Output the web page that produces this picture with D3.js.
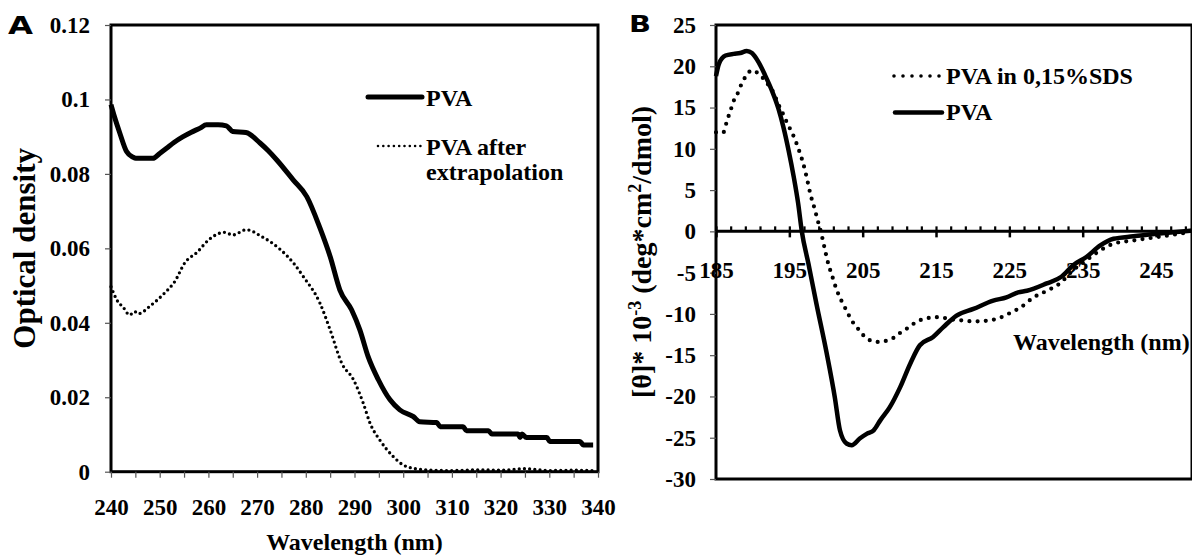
<!DOCTYPE html>
<html>
<head>
<meta charset="utf-8">
<script src="https://cdn.jsdelivr.net/npm/d3@7"></script>
<style>
  html, body { margin: 0; padding: 0; background: #fff; }
  svg { display: block; }
  text.serif { font-family: "Liberation Serif", "Times New Roman", serif; font-weight: bold; fill: #000; }
</style>
</head>
<body>
<svg id="chart" width="1192" height="557"></svg>
<script>
// ---------- Panel A data (UV absorbance) ----------
const pvaA_wl = [240, 240.7, 241.8, 243.2, 244.5, 245.1, 248.6, 250, 251.4, 253, 254.8, 256.5, 258.3, 259.6, 262, 263.7, 265, 267.7, 270.6, 272.3, 274, 277.4, 280.2, 282.9, 285, 287, 289.4, 291.1, 292.8, 294.9, 297.3, 299.3, 302.1, 303.4, 306.9, 307.6, 312.3, 313, 317.5, 318.2, 323.6, 324.0, 324.4, 325.3, 329.5, 330.1, 336.3, 337, 339];
const pvaA_od = [0.0986, 0.0954, 0.091, 0.086, 0.0845, 0.0842, 0.0842, 0.0855, 0.0869, 0.0885, 0.090, 0.0912, 0.0923, 0.0932, 0.0932, 0.0929, 0.0914, 0.0911, 0.0883, 0.0862, 0.0838, 0.0784, 0.0739, 0.0655, 0.0578, 0.0488, 0.0435, 0.0381, 0.0309, 0.0247, 0.0193, 0.0166, 0.0148, 0.0134, 0.0132, 0.0121, 0.0121, 0.0110, 0.0110, 0.0101, 0.0101, 0.0092, 0.0101, 0.0092, 0.0092, 0.0081, 0.0081, 0.0072, 0.0072];

const extrA_wl = [240, 241.4, 242.5, 243.8, 244.9, 245.5, 248.3, 251, 253.1, 255.1, 257.8, 259.9, 263.3, 265, 267.8, 270.9, 274.5, 277.5, 279.5, 282.9, 285, 287.4, 289.8, 291.8, 293.2, 295.2, 298, 300, 302.1, 304.8, 310, 315, 320, 325, 330, 335, 339];
const extrA_od = [0.0497, 0.0457, 0.0442, 0.0421, 0.0430, 0.0424, 0.0448, 0.0480, 0.0511, 0.0560, 0.0591, 0.0621, 0.0643, 0.0636, 0.0650, 0.0632, 0.0600, 0.0560, 0.0524, 0.0453, 0.0381, 0.0291, 0.0247, 0.0184, 0.0130, 0.0085, 0.0040, 0.0018, 0.0009, 0.0005, 0.0003, 0.0005, 0.0004, 0.0008, 0.0003, 0.0004, 0.0003];

const xTicksA = [240, 250, 260, 270, 280, 290, 300, 310, 320, 330, 340];
const yTicksA = [0, 0.02, 0.04, 0.06, 0.08, 0.1, 0.12];
const yTickLabelsA = ["0", "0.02", "0.04", "0.06", "0.08", "0.1", "0.12"];
const legendA = ["PVA", "PVA after", "extrapolation"];

// ---------- Panel B data (CD spectra) ----------
const pvaB_wl = [185, 185.4, 186.3, 187.4, 188.3, 189.2, 189.9, 190.8, 191.7, 192.6, 193.5, 194.2, 194.9, 195.6, 196.2, 196.7, 197.6, 198.7, 200.1, 201.2, 201.9, 202.8, 203.5, 204.6, 205.6, 206.5, 207.4, 208.7, 210.1, 211.5, 212.8, 214.6, 216.0, 217.8, 220.1, 222.8, 224.6, 226.2, 227.4, 230.1, 232.1, 233.7, 235.5, 237.4, 239.2, 241.9, 245.1, 250];
const pvaB_cd = [18.8, 20.3, 21.3, 21.5, 21.6, 21.85, 21.6, 20.5, 18.9, 17.1, 14.9, 12.6, 9.8, 6.6, 3.4, 0, -3.9, -8.8, -14.8, -20.1, -24.1, -25.7, -25.9, -25.1, -24.5, -24.1, -22.9, -21.3, -18.9, -16.0, -13.8, -12.8, -11.6, -10.2, -9.4, -8.4, -8.0, -7.4, -7.2, -6.3, -5.5, -4.1, -3.1, -1.7, -0.9, -0.6, -0.3, 0.1];

const sdsB_wl = [185, 186.0, 186.5, 187.0, 187.5, 188.0, 188.5, 189.0, 189.9, 190.8, 192.0, 192.9, 193.5, 194.0, 194.5, 195.0, 195.6, 196.0, 196.4, 196.9, 197.3, 197.6, 197.9, 198.3, 198.7, 199.0, 199.4, 199.7, 200.3, 200.8, 201.5, 202.1, 202.8, 203.5, 204.2, 205.1, 206.0, 207.1, 208.0, 209.2, 210.1, 211.0, 212.1, 213.0, 213.9, 215.1, 216.2, 217.4, 218.7, 219.9, 221.0, 222.1, 223.3, 224.4, 225.5, 226.4, 228.3, 230.1, 231.9, 233.7, 235.5, 237.4, 239.2, 241.9, 245.1, 249.6];
const sdsB_cd = [12.0, 12.0, 13.4, 14.7, 16.0, 16.8, 17.9, 18.7, 19.5, 19.1, 17.9, 16.7, 15.4, 14.5, 13.5, 12.6, 11.5, 10.6, 9.6, 8.2, 6.8, 5.6, 4.4, 3.2, 1.9, 0.9, -0.4, -1.6, -3.9, -5.3, -7.2, -8.4, -9.6, -10.8, -11.6, -12.6, -13.2, -13.4, -13.3, -12.9, -12.3, -11.8, -11.1, -10.7, -10.5, -10.4, -10.5, -10.7, -10.8, -10.9, -10.9, -10.8, -10.6, -10.2, -9.7, -9.3, -8.0, -7.2, -6.3, -4.7, -3.5, -2.3, -1.5, -1.1, -0.7, -0.1];

const xTicksB = [185, 195, 205, 215, 225, 235, 245];
const yTicksB = [25, 20, 15, 10, 5, 0, -5, -10, -15, -20, -25, -30];
const legendB = ["PVA in 0,15%SDS", "PVA"];

// ---------- Drawing ----------
const svg = d3.select("#chart");
const zip = (xs, ys) => xs.map((x, i) => [x, ys[i]]);
const SERIF = "'Liberation Serif', 'Times New Roman', serif";
const styleTicks = sel => sel.selectAll(".tick text")
  .style("font-family", SERIF).style("font-weight", "bold").style("font-size", "23px").style("fill", "#000");

// ===== Panel A =====
const xA = d3.scaleLinear().domain([240, 340]).range([111, 598]);
const yA = d3.scaleLinear().domain([0, 0.12]).range([471.7, 25]);
const gA = svg.append("g");

gA.append("rect")
  .attr("x", xA(240)).attr("y", yA(0.12))
  .attr("width", xA(340) - xA(240)).attr("height", yA(0) - yA(0.12))
  .attr("fill", "none").attr("stroke", "#000").attr("stroke-width", 3);

const yAxisA = d3.axisLeft(yA).tickValues(yTicksA)
  .tickFormat((d, i) => yTickLabelsA[i]).tickSize(6).tickSizeOuter(0).tickPadding(15);
const gyA = gA.append("g").attr("transform", `translate(${xA(240)},0)`).call(yAxisA);
gyA.select(".domain").remove();
gyA.selectAll(".tick line").attr("stroke", "#555").attr("stroke-width", 1.2);
styleTicks(gyA);

const xAllA = d3.range(240, 341, 5);
const xAxisA = d3.axisBottom(xA).tickValues(xAllA)
  .tickFormat(d => xTicksA.includes(d) ? String(d) : "").tickSize(6).tickSizeOuter(0).tickPadding(21);
const gxA = gA.append("g").attr("transform", `translate(0,${yA(0)})`).call(xAxisA);
gxA.select(".domain").remove();
gxA.selectAll(".tick line").attr("stroke", "#555").attr("stroke-width", 1.2);
styleTicks(gxA);

const lineA = d3.line().x(d => xA(d[0])).y(d => yA(d[1])).curve(d3.curveMonotoneX);
gA.append("path").datum(zip(extrA_wl, extrA_od)).attr("d", lineA)
  .attr("fill", "none").attr("stroke", "#000").attr("stroke-width", 3.3)
  .attr("stroke-linecap", "round").attr("stroke-dasharray", "0,5.2");
gA.append("path").datum(zip(pvaA_wl, pvaA_od)).attr("d", lineA)
  .attr("fill", "none").attr("stroke", "#000").attr("stroke-width", 5)
  .attr("stroke-linejoin", "round");

// legend A
gA.append("line").attr("x1", 368).attr("x2", 422).attr("y1", 97).attr("y2", 97)
  .attr("stroke", "#000").attr("stroke-width", 5).attr("stroke-linecap", "round");
gA.append("text").attr("class", "serif").attr("x", 426).attr("y", 106).attr("font-size", 24).text(legendA[0]);
gA.append("line").attr("x1", 378).attr("x2", 421).attr("y1", 146).attr("y2", 146)
  .attr("stroke", "#000").attr("stroke-width", 2.6).attr("stroke-linecap", "round").attr("stroke-dasharray", "0,5.3");
gA.append("text").attr("class", "serif").attr("x", 426).attr("y", 155).attr("font-size", 24).text(legendA[1]);
gA.append("text").attr("class", "serif").attr("x", 426).attr("y", 180).attr("font-size", 24).text(legendA[2]);

// titles A
gA.append("text").attr("class", "serif").attr("x", (xA(240) + xA(340)) / 2).attr("y", 550)
  .attr("text-anchor", "middle").attr("font-size", 24).text("Wavelength (nm)");
gA.append("text").attr("class", "serif").attr("transform", `translate(35,${(yA(0) + yA(0.12)) / 2}) rotate(-90)`)
  .attr("text-anchor", "middle").attr("font-size", 31).text("Optical density");
gA.append("text").attr("x", 8).attr("y", 34)
  .style("font-family", "'DejaVu Sans', sans-serif").style("font-weight", "900").style("font-size", "24px")
  .attr("textLength", 25).attr("lengthAdjust", "spacingAndGlyphs").text("A");

// ===== Panel B =====
const xB = d3.scaleLinear().domain([185, 250]).range([716, 1192.7]);
const yB = d3.scaleLinear().domain([-30, 25]).range([479, 25]);
const gB = svg.append("g");

gB.append("rect")
  .attr("x", xB(185)).attr("y", yB(25))
  .attr("width", 1192 - xB(185)).attr("height", yB(-30) - yB(25))
  .attr("fill", "none").attr("stroke", "#000").attr("stroke-width", 3);

const yAxisB = d3.axisLeft(yB).tickValues(yTicksB).tickFormat(d => String(d))
  .tickSize(6).tickSizeOuter(0).tickPadding(14);
const gyB = gB.append("g").attr("transform", `translate(${xB(185)},0)`).call(yAxisB);
gyB.select(".domain").remove();
gyB.selectAll(".tick line").attr("stroke", "#555").attr("stroke-width", 1.2);
styleTicks(gyB);

const gxB = gB.append("g").attr("transform", `translate(0,${yB(0)})`);
const minorB = d3.axisBottom(xB).tickValues(d3.range(185, 251, 2)).tickFormat("").tickSize(-5).tickSizeOuter(0);
const gMinor = gxB.append("g").call(minorB);
gMinor.select(".domain").remove();
gMinor.selectAll(".tick line").attr("stroke", "#000").attr("stroke-width", 2.2);
const majorB = d3.axisBottom(xB).tickValues(xTicksB).tickFormat(d => String(d))
  .tickSize(6).tickSizeOuter(0).tickPadding(24);
const gMajor = gxB.append("g").call(majorB);
gMajor.select(".domain").remove();
gMajor.selectAll(".tick line").attr("stroke", "#000").attr("stroke-width", 2.5);
styleTicks(gMajor);
gxB.append("line").attr("x1", xB(185)).attr("x2", 1192).attr("y1", 0).attr("y2", 0)
  .attr("stroke", "#000").attr("stroke-width", 3);

const lineB = d3.line().x(d => xB(d[0])).y(d => yB(d[1])).curve(d3.curveMonotoneX);
gB.append("path").datum(zip(sdsB_wl, sdsB_cd)).attr("d", lineB)
  .attr("fill", "none").attr("stroke", "#000").attr("stroke-width", 4.2)
  .attr("stroke-linecap", "round").attr("stroke-dasharray", "0,8.2");
gB.append("path").datum(zip(pvaB_wl, pvaB_cd)).attr("d", lineB)
  .attr("fill", "none").attr("stroke", "#000").attr("stroke-width", 4.5)
  .attr("stroke-linejoin", "round");

// legend B
gB.append("line").attr("x1", 894).attr("x2", 940).attr("y1", 76).attr("y2", 76)
  .attr("stroke", "#000").attr("stroke-width", 3.6).attr("stroke-linecap", "round").attr("stroke-dasharray", "0,9");
gB.append("text").attr("class", "serif").attr("x", 946).attr("y", 84).attr("font-size", 24).text(legendB[0]);
gB.append("line").attr("x1", 895).attr("x2", 942).attr("y1", 112.5).attr("y2", 112.5)
  .attr("stroke", "#000").attr("stroke-width", 4.5).attr("stroke-linecap", "round");
gB.append("text").attr("class", "serif").attr("x", 946).attr("y", 120).attr("font-size", 24).text(legendB[1]);

// titles B
gB.append("text").attr("class", "serif").attr("x", 1013).attr("y", 350).attr("font-size", 24).text("Wavelength (nm)");
const tB = gB.append("text").attr("class", "serif")
  .attr("transform", `translate(651,${(yB(25) + yB(-30)) / 2}) rotate(-90)`)
  .attr("text-anchor", "middle").attr("font-size", 28);
tB.append("tspan").text("[θ]* 10");
tB.append("tspan").attr("baseline-shift", "super").attr("font-size", 18).text("-3");
tB.append("tspan").text(" (deg*cm");
tB.append("tspan").attr("baseline-shift", "super").attr("font-size", 18).text("2");
tB.append("tspan").text("/dmol)");
gB.append("text").attr("x", 629).attr("y", 32)
  .style("font-family", "'DejaVu Sans', sans-serif").style("font-weight", "900").style("font-size", "23px")
  .attr("textLength", 22).attr("lengthAdjust", "spacingAndGlyphs").text("B");
</script>
</body>
</html>
